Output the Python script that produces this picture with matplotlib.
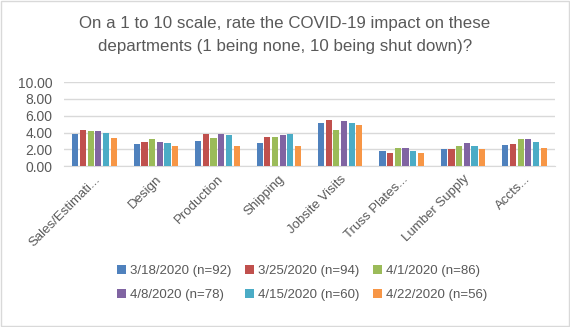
import matplotlib.pyplot as plt
import numpy as np
from matplotlib.patches import Rectangle

categories = ["Sales/Estimati...", "Design", "Production", "Shipping",
              "Jobsite Visits", "Truss Plates...", "Lumber Supply", "Accts..."]
series_names = ["3/18/2020 (n=92)", "3/25/2020 (n=94)", "4/1/2020 (n=86)",
                "4/8/2020 (n=78)", "4/15/2020 (n=60)", "4/22/2020 (n=56)"]
s_0318 = [3.8, 2.6, 3.0, 2.7, 5.15, 1.75, 2.0, 2.5]
s_0325 = [4.3, 2.85, 3.8, 3.45, 5.5, 1.6, 2.0, 2.6]
s_0401 = [4.15, 3.2, 3.33, 3.45, 4.3, 2.1, 2.35, 3.2]
s_0408 = [4.15, 2.9, 3.8, 3.7, 5.4, 2.2, 2.7, 3.2]
s_0415 = [4.0, 2.8, 3.7, 3.8, 5.15, 1.85, 2.35, 2.85]
s_0422 = [3.4, 2.35, 2.35, 2.35, 4.9, 1.6, 2.0, 2.2]
yticks = [0, 2, 4, 6, 8, 10]

values = [s_0318, s_0325, s_0401, s_0408, s_0415, s_0422]
colors = ["#4F81BD", "#C0504D", "#9BBB59", "#8064A2", "#4BACC6", "#F79646"]
text_col = "#595959"
plt.rcParams["font.family"] = ["Liberation Sans", "DejaVu Sans"]

fig = plt.figure(figsize=(5.7, 3.27), dpi=100)
fig.patches.append(Rectangle((0.001, 0.002), 0.997, 0.995, transform=fig.transFigure,
                             fill=False, edgecolor="#D9D9D9", lw=1))
ax = fig.add_axes([0.112, 0.492, 0.862, 0.257])

x = np.arange(len(categories))
step = 0.125
width = 0.1
bars = []
for i, (vals, name, c) in enumerate(zip(values, series_names, colors)):
    bars.append(ax.bar(x + (i - 2.5) * step, vals, width, color=c, label=name, zorder=3))

ax.set_xlim(-0.5, len(categories) - 0.5)
ax.set_ylim(0, 10)
ax.set_yticks(yticks)
ax.set_yticklabels(["%.2f" % v for v in yticks], fontsize=10, color=text_col)
ax.set_xticks(x)
ax.set_xticklabels(categories, rotation=45, ha="right", rotation_mode="anchor",
                   fontsize=9.5, color=text_col)
ax.tick_params(axis="both", length=0, pad=8)
ax.tick_params(axis="x", pad=5)
ax.grid(axis="y", color="#D9D9D9", lw=1, zorder=0)
for s in ["top", "right", "left"]:
    ax.spines[s].set_visible(False)
ax.spines["bottom"].set_color("#D9D9D9")

fig.suptitle("On a 1 to 10 scale, rate the COVID-19 impact on these\n"
             "departments (1 being none, 10 being shut down)?",
             x=0.5, y=0.95, fontsize=12.2, color=text_col, linespacing=1.65)

# legend fills row by row, like the original
order = [0, 3, 1, 4, 2, 5]
fig.legend([bars[i] for i in order], [series_names[i] for i in order],
           loc="center", bbox_to_anchor=(0.53, 0.135), ncol=3, frameon=False,
           fontsize=9.5, labelcolor=text_col, handlelength=0.7, handleheight=0.7,
           handletextpad=0.3, columnspacing=1.0, labelspacing=0.9)

fig.savefig("out.png", dpi=100)
